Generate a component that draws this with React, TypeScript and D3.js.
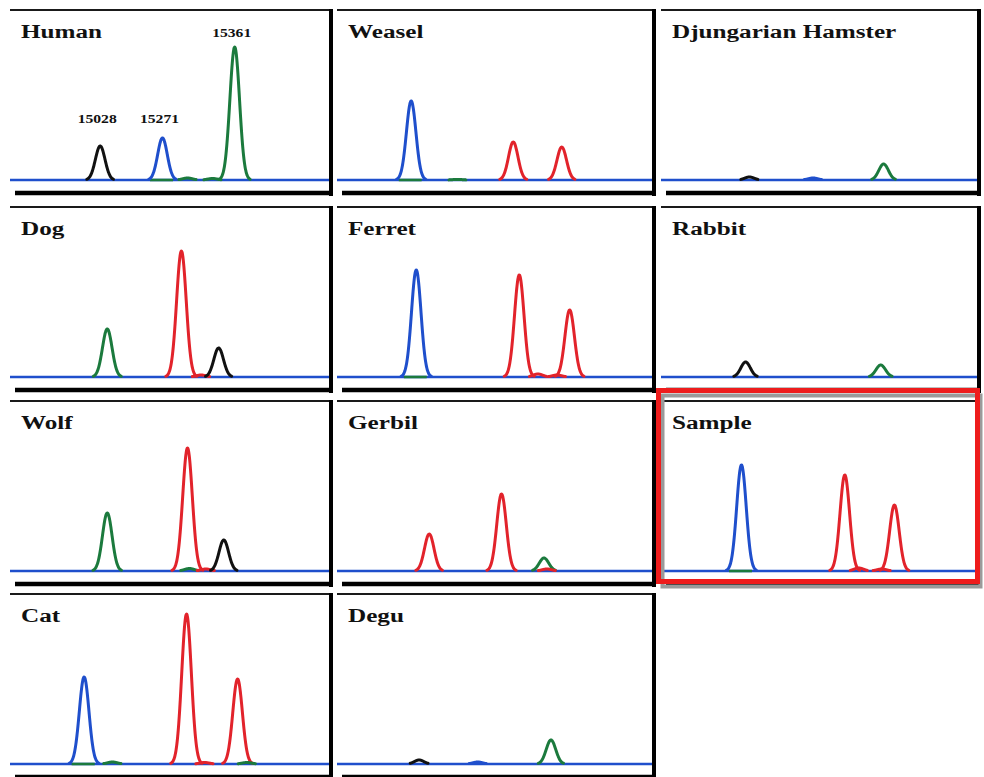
import React, { useEffect, useRef } from "react";
import * as d3 from "d3";

// panel titles, read left to right, top to bottom
const panelNames = [
  "Human",
  "Weasel",
  "Djungarian Hamster",
  "Dog",
  "Ferret",
  "Rabbit",
  "Wolf",
  "Gerbil",
  "Sample",
  "Cat",
  "Degu",
];

// peaks: dye, position (relative migration, 0-100), height (signal)
const humanPeaks = [
  { dye: "black", pos: 28.1, h: 34 },
  { dye: "blue", pos: 47.5, h: 42 },
  { dye: "green", pos: 55.3, h: 2 },
  { dye: "green", pos: 63.1, h: 1.5 },
  { dye: "green", pos: 70.0, h: 133 },
];
const weaselPeaks = [
  { dye: "blue", pos: 23.4, h: 79 },
  { dye: "green", pos: 38.0, h: 0.6 },
  { dye: "red", pos: 55.6, h: 38 },
  { dye: "red", pos: 70.9, h: 33 },
];
const hamsterPeaks = [
  { dye: "black", pos: 27.8, h: 3 },
  { dye: "blue", pos: 47.8, h: 2 },
  { dye: "green", pos: 70.0, h: 16 },
];
const dogPeaks = [
  { dye: "green", pos: 30.3, h: 48 },
  { dye: "red", pos: 53.4, h: 126 },
  { dye: "red", pos: 59.5, h: 2 },
  { dye: "black", pos: 65.0, h: 29 },
];
const ferretPeaks = [
  { dye: "blue", pos: 25.0, h: 107 },
  { dye: "red", pos: 57.5, h: 102 },
  { dye: "red", pos: 63.4, h: 3 },
  { dye: "red", pos: 69.4, h: 2 },
  { dye: "red", pos: 73.4, h: 67 },
];
const rabbitPeaks = [
  { dye: "black", pos: 26.6, h: 15 },
  { dye: "green", pos: 69.1, h: 12 },
];
const wolfPeaks = [
  { dye: "green", pos: 30.3, h: 58 },
  { dye: "red", pos: 55.3, h: 123 },
  { dye: "green", pos: 55.9, h: 2.5 },
  { dye: "red", pos: 61.0, h: 2 },
  { dye: "black", pos: 66.6, h: 31 },
];
const gerbilPeaks = [
  { dye: "red", pos: 29.1, h: 37 },
  { dye: "red", pos: 51.9, h: 77 },
  { dye: "green", pos: 65.3, h: 13 },
  { dye: "red", pos: 66.2, h: 2 },
];
const samplePeaks = [
  { dye: "blue", pos: 25.3, h: 106 },
  { dye: "red", pos: 57.8, h: 96 },
  { dye: "red", pos: 62.2, h: 3 },
  { dye: "red", pos: 69.4, h: 2 },
  { dye: "red", pos: 73.4, h: 66 },
];
const catPeaks = [
  { dye: "blue", pos: 23.1, h: 87 },
  { dye: "green", pos: 31.9, h: 2 },
  { dye: "red", pos: 55.0, h: 150 },
  { dye: "red", pos: 60.6, h: 1.5 },
  { dye: "red", pos: 70.9, h: 85 },
  { dye: "green", pos: 73.8, h: 1.5 },
];
const deguPeaks = [
  { dye: "black", pos: 25.9, h: 4 },
  { dye: "blue", pos: 44.4, h: 2 },
  { dye: "green", pos: 67.5, h: 24 },
];

const panelPeaks = [
  humanPeaks,
  weaselPeaks,
  hamsterPeaks,
  dogPeaks,
  ferretPeaks,
  rabbitPeaks,
  wolfPeaks,
  gerbilPeaks,
  samplePeaks,
  catPeaks,
  deguPeaks,
];

// allele labels on the human profile
const humanLabels = ["15028", "15271", "15361"];
const humanLabelLevels = [57, 57, 143];

const dyeColors = {
  blue: "#1f4fcc",
  green: "#1b7a3d",
  red: "#e2232b",
  black: "#111111",
};

const App = () => {
  const chart = useRef(null);

  useEffect(() => {
    const width = 984;
    const height = 777;
    const colLeft = [10, 337, 661];
    const colRight = [331, 654, 979];
    const rowTop = [10, 207, 401, 594];
    const sigma = 1.5;
    const font = "'Liberation Serif', 'Times New Roman', serif";

    const svg = d3
      .select(chart.current)
      .attr("width", width)
      .attr("height", height);
    svg.selectAll("*").remove();

    svg
      .append("rect")
      .attr("width", width)
      .attr("height", height)
      .attr("fill", "#fff");

    panelNames.forEach((name, i) => {
      const col = i % 3;
      const row = Math.floor(i / 3);
      const left = colLeft[col];
      const right = colRight[col];
      const top = rowTop[row];
      const base = top + 170;

      const x = d3.scaleLinear().domain([0, 100]).range([left, right]);
      const y = d3.scaleLinear().domain([0, 160]).range([base, base - 160]);

      const g = svg.append("g");

      // frame: thin top rule, heavy right border and bottom bar
      g.append("line")
        .attr("x1", left)
        .attr("x2", right)
        .attr("y1", top)
        .attr("y2", top)
        .attr("stroke", "#1a1a1a")
        .attr("stroke-width", 2.2);
      g.append("line")
        .attr("x1", right)
        .attr("x2", right)
        .attr("y1", top - 1)
        .attr("y2", base + 16)
        .attr("stroke", "#000")
        .attr("stroke-width", 4);
      g.append("line")
        .attr("x1", left + 5)
        .attr("x2", right + 2)
        .attr("y1", base + 13)
        .attr("y2", base + 13)
        .attr("stroke", "#000")
        .attr("stroke-width", 4.5);

      // blue baseline
      g.append("line")
        .attr("x1", x(0))
        .attr("x2", x(100) - 2)
        .attr("y1", y(0))
        .attr("y2", y(0))
        .attr("stroke", dyeColors.blue)
        .attr("stroke-width", 2.4);

      const peaks = panelPeaks[i];

      // green trace shows at the baseline under blue peaks
      peaks
        .filter((p) => p.dye === "blue" && p.h > 5)
        .forEach((p) => {
          g.append("line")
            .attr("x1", x(p.pos - 2.6 * sigma))
            .attr("x2", x(p.pos + 2.2 * sigma))
            .attr("y1", y(0))
            .attr("y2", y(0))
            .attr("stroke", dyeColors.green)
            .attr("stroke-width", 2.6);
        });

      const line = d3
        .line()
        .x((d) => x(d[0]))
        .y((d) => y(d[1]))
        .curve(d3.curveBasis);

      peaks.forEach((p) => {
        // trace only where the signal lifts off the baseline
        const span =
          p.h < 4 ? 1.8 * sigma : sigma * Math.sqrt(2 * Math.log(p.h / 0.7));
        const pts = d3
          .range(p.pos - span, p.pos + span + 0.01, 0.08)
          .map((t) => [
            t,
            p.h * Math.exp(-((t - p.pos) ** 2) / (2 * sigma * sigma)),
          ]);
        g.append("path")
          .attr("d", line(pts))
          .attr("fill", "none")
          .attr("stroke", dyeColors[p.dye])
          .attr("stroke-width", 3)
          .attr("stroke-linejoin", "round")
          .attr("stroke-linecap", "round");
      });

      // title
      g.append("text")
        .attr("transform", `translate(${left + 11}, ${top + 28}) scale(1.36, 1)`)
        .attr("font-family", font)
        .attr("font-weight", "bold")
        .attr("font-size", 18.5)
        .attr("fill", "#111")
        .text(name);

      if (name === "Human") {
        const labelled = peaks.filter((p) => p.h > 20);
        humanLabels.forEach((lab, k) => {
          g.append("text")
            .attr(
              "transform",
              `translate(${x(labelled[k].pos) - 3}, ${y(humanLabelLevels[k])}) scale(1.36, 1)`
            )
            .attr("text-anchor", "middle")
            .attr("font-family", font)
            .attr("font-weight", "bold")
            .attr("font-size", 11.5)
            .attr("fill", "#111")
            .text(lab);
        });
      }

      // the questioned sample is boxed in red with a drop shadow
      if (name === "Sample") {
        g.append("rect")
          .attr("x", left + 1.5)
          .attr("y", top - 10.5 + 5)
          .attr("width", right - left)
          .attr("height", 191)
          .attr("fill", "none")
          .attr("stroke", "#9a9a9a")
          .attr("stroke-width", 4);
        g.append("rect")
          .attr("x", left - 2.5)
          .attr("y", top - 10.5)
          .attr("width", right - left + 1)
          .attr("height", 191)
          .attr("fill", "none")
          .attr("stroke", "#ee1c1c")
          .attr("stroke-width", 5);
      }
    });
  });

  return (
    <div style={{ position: "absolute", left: 0, top: 0 }}>
      <svg ref={chart} style={{ display: "block" }}></svg>
    </div>
  );
};

export default App;
